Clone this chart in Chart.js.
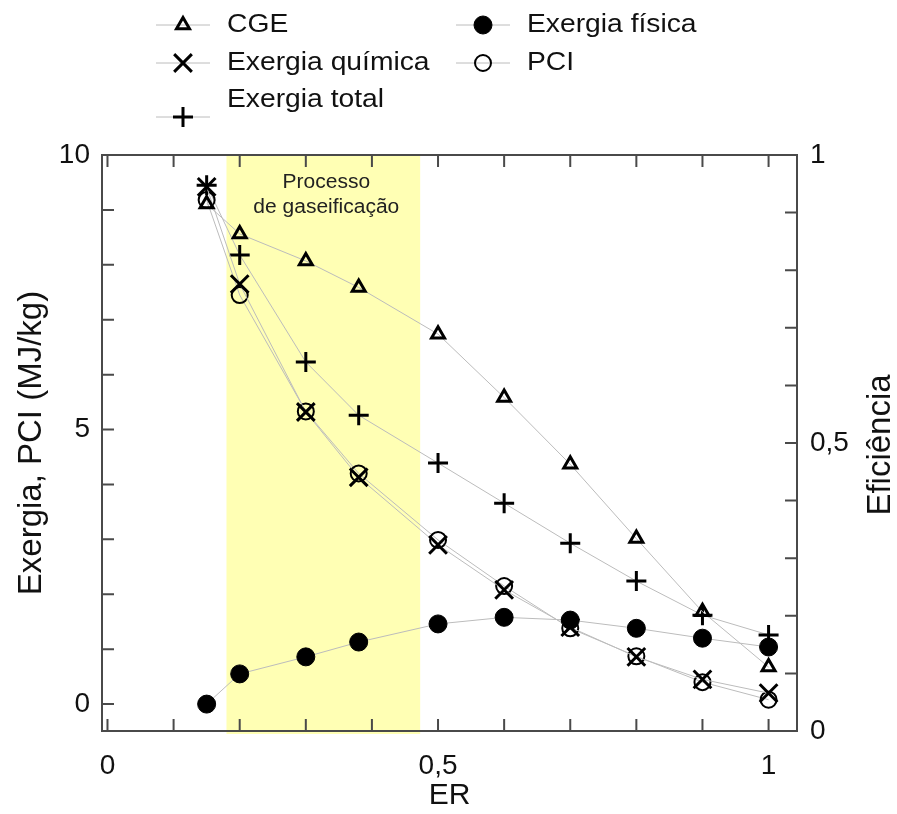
<!DOCTYPE html>
<html>
<head>
<meta charset="utf-8">
<script src="https://cdn.jsdelivr.net/npm/chart.js@4.4.1/dist/chart.umd.min.js"></script>
<style>
  html, body { margin: 0; padding: 0; background: #fff; }
  #chartArea { width: 897px; height: 814px; }
</style>
</head>
<body>
<div id="chartArea"><canvas id="myChart" width="897" height="814"></canvas></div>
<script>
// razao de equivalencia (ER)
const erValues = [0.15, 0.2, 0.3, 0.38, 0.5, 0.6, 0.7, 0.8, 0.9, 1.0];

// eixo direito (eficiencia)
const cgeValues = [0.915, 0.863, 0.816, 0.770, 0.689, 0.579, 0.463, 0.334, 0.207, 0.111];

// eixo esquerdo (MJ/kg)
const exFisicaValues = [0, 0.55, 0.86, 1.13, 1.46, 1.58, 1.53, 1.38, 1.20, 1.04];
const exQuimicaValues = [9.42, 7.65, 5.32, 4.13, 2.90, 2.08, 1.40, 0.86, 0.45, 0.20];
const pciValues = [9.18, 7.45, 5.33, 4.20, 2.99, 2.15, 1.38, 0.87, 0.40, 0.08];
const exTotalValues = [9.45, 8.18, 6.23, 5.26, 4.39, 3.66, 2.93, 2.24, 1.62, 1.26];

const xTickLabels = [0, 0.5, 1];
const leftTickLabels = [0, 5, 10];
const rightTickLabels = [0, 0.5, 1];

const bandRange = [0.18, 0.473];
const bandText = ['Processo', 'de gaseificação'];

const FONT = "'Liberation Sans', Arial, sans-serif";
const LINE_GRAY = '#bcbcbc';

function toPoints(vals) {
  return vals.map((v, i) => ({ x: erValues[i], y: v }));
}

function fmt(v) {
  return String(v).replace('.', ',');
}

function serie(label, vals, style, extra) {
  return Object.assign({
    label: label,
    data: toPoints(vals),
    yAxisID: 'y',
    borderColor: LINE_GRAY,
    borderWidth: 1,
    pointStyle: style,
    pointBorderColor: '#000',
    pointBackgroundColor: 'rgba(0,0,0,0)',
    pointHoverRadius: 0,
    tension: 0,
    fill: false,
  }, extra);
}

const datasets = [
  serie('CGE', cgeValues, 'triangle', { yAxisID: 'y1', pointRadius: 7.5, pointBorderWidth: 3 }),
  serie('Exergia física', exFisicaValues, 'circle', { pointRadius: 9, pointBorderWidth: 1, pointBackgroundColor: '#000' }),
  serie('Exergia química', exQuimicaValues, 'crossRot', { pointRadius: 12.5, pointBorderWidth: 3 }),
  serie('PCI', pciValues, 'circle', { pointRadius: 8, pointBorderWidth: 2 }),
  serie('Exergia total', exTotalValues, 'cross', { pointRadius: 10, pointBorderWidth: 3 }),
];

// texto esticado na horizontal, como no original
function wideText(ctx, txt, x, y, size, sx, align) {
  ctx.save();
  ctx.font = size + 'px ' + FONT;
  ctx.textBaseline = 'middle';
  ctx.textAlign = align || 'left';
  ctx.translate(x, y);
  ctx.scale(sx, 1);
  ctx.fillText(txt, 0, 0);
  ctx.restore();
}

// faixa amarela do processo de gaseificacao
const bandPlugin = {
  id: 'band',
  beforeDatasetsDraw(chart) {
    const { ctx, chartArea, scales } = chart;
    const x0 = scales.x.getPixelForValue(bandRange[0]);
    const x1 = scales.x.getPixelForValue(bandRange[1]);
    ctx.save();
    ctx.fillStyle = '#ffffb4';
    ctx.fillRect(x0, chartArea.top, x1 - x0, chartArea.bottom - chartArea.top + 3);
    ctx.fillStyle = '#222';
    wideText(ctx, bandText[0], (x0 + x1) / 2 + 3, chartArea.top + 27, 20, 1.05, 'center');
    wideText(ctx, bandText[1], (x0 + x1) / 2 + 3, chartArea.top + 52, 20, 1.05, 'center');
    ctx.restore();
  },
};

// moldura com marcas para dentro
const framePlugin = {
  id: 'frame',
  afterDatasetsDraw(chart) {
    const { ctx, chartArea, scales } = chart;
    const { left, right, top, bottom } = chartArea;
    const tl = 12;
    ctx.save();
    ctx.strokeStyle = '#4a4a4a';
    ctx.lineWidth = 2;
    ctx.strokeRect(left, top, right - left, bottom - top);
    ctx.beginPath();
    for (let i = 0; i <= 10; i++) {
      const x = scales.x.getPixelForValue(i / 10);
      ctx.moveTo(x, bottom); ctx.lineTo(x, bottom - tl);
      ctx.moveTo(x, top); ctx.lineTo(x, top + tl);
      const yl = scales.y.getPixelForValue(i);
      ctx.moveTo(left, yl); ctx.lineTo(left + tl, yl);
      const yr = scales.y1.getPixelForValue(i / 10);
      ctx.moveTo(right, yr); ctx.lineTo(right - tl, yr);
    }
    ctx.stroke();
    ctx.restore();
  },
};

// legenda e titulo do eixo direito
const legendPlugin = {
  id: 'customLegend',
  afterDraw(chart) {
    const ctx = chart.ctx;
    const slots = [
      { mx: 183, my: 25, tx: 227, ty: 25 },
      { mx: 483, my: 25, tx: 527, ty: 25 },
      { mx: 183, my: 63, tx: 227, ty: 63 },
      { mx: 483, my: 63, tx: 527, ty: 63 },
      { mx: 183, my: 117, tx: 227, ty: 100 },
    ];
    ctx.save();
    chart.data.datasets.forEach((ds, i) => {
      const s = slots[i];
      ctx.strokeStyle = LINE_GRAY;
      ctx.lineWidth = 1;
      ctx.beginPath();
      ctx.moveTo(s.mx - 27, s.my);
      ctx.lineTo(s.mx + 27, s.my);
      ctx.stroke();
      ctx.strokeStyle = '#000';
      ctx.fillStyle = ds.pointBackgroundColor;
      ctx.lineWidth = ds.pointBorderWidth;
      Chart.helpers.drawPoint(ctx, {
        pointStyle: ds.pointStyle,
        radius: ds.pointRadius,
        borderWidth: ds.pointBorderWidth,
        rotation: 0,
      }, s.mx, s.my);
      ctx.fillStyle = '#111';
      wideText(ctx, ds.label, s.tx, s.ty, 25, 1.13);
    });

    ctx.fillStyle = '#111';
    ctx.font = '33px ' + FONT;
    ctx.textAlign = 'center';
    ctx.textBaseline = 'middle';
    ctx.translate(881, 445);
    ctx.rotate(-Math.PI / 2);
    ctx.fillText('Eficiência', 0, 0);
    ctx.restore();
  },
};

let chart;
function createChart() {
  const ctx = document.getElementById('myChart').getContext('2d');
  chart = new Chart(ctx, {
    type: 'line',
    data: { datasets: datasets },
    options: {
      responsive: false,
      animation: false,
      events: [],
      layout: { padding: { top: 155, left: 0, right: 0, bottom: 0 } },
      plugins: {
        legend: { display: false },
        tooltip: { enabled: false },
      },
      scales: {
        x: {
          type: 'linear',
          min: -0.0083,
          max: 1.043,
          afterBuildTicks: (s) => { s.ticks = xTickLabels.map((v) => ({ value: v })); },
          afterFit: (s) => { s.height = 83; },
          grid: { display: false, drawTicks: false },
          border: { display: false },
          ticks: {
            padding: 18,
            maxRotation: 0,
            color: '#111',
            font: { family: FONT, size: 28 },
            callback: (v) => fmt(v),
          },
          title: {
            display: true,
            text: 'ER',
            color: '#111',
            font: { family: FONT, size: 30 },
            padding: { top: 0, bottom: 0 },
          },
        },
        y: {
          position: 'left',
          min: -0.49,
          max: 10,
          afterBuildTicks: (s) => { s.ticks = leftTickLabels.map((v) => ({ value: v })); },
          afterFit: (s) => { s.width = 102; },
          grid: { display: false, drawTicks: false },
          border: { display: false },
          ticks: {
            padding: 12,
            color: '#111',
            font: { family: FONT, size: 28 },
            callback: (v) => fmt(v),
          },
          title: {
            display: true,
            text: 'Exergia, PCI (MJ/kg)',
            color: '#111',
            font: { family: FONT, size: 33 },
            padding: { top: 12, bottom: 0 },
          },
        },
        y1: {
          position: 'right',
          min: 0,
          max: 1,
          afterBuildTicks: (s) => { s.ticks = rightTickLabels.map((v) => ({ value: v })); },
          afterFit: (s) => { s.width = 100; },
          grid: { display: false, drawTicks: false },
          border: { display: false },
          ticks: {
            padding: 13,
            color: '#111',
            font: { family: FONT, size: 28 },
            callback: (v) => fmt(v),
          },
        },
      },
    },
    plugins: [bandPlugin, framePlugin, legendPlugin],
  });
}

createChart();
</script>
</body>
</html>
